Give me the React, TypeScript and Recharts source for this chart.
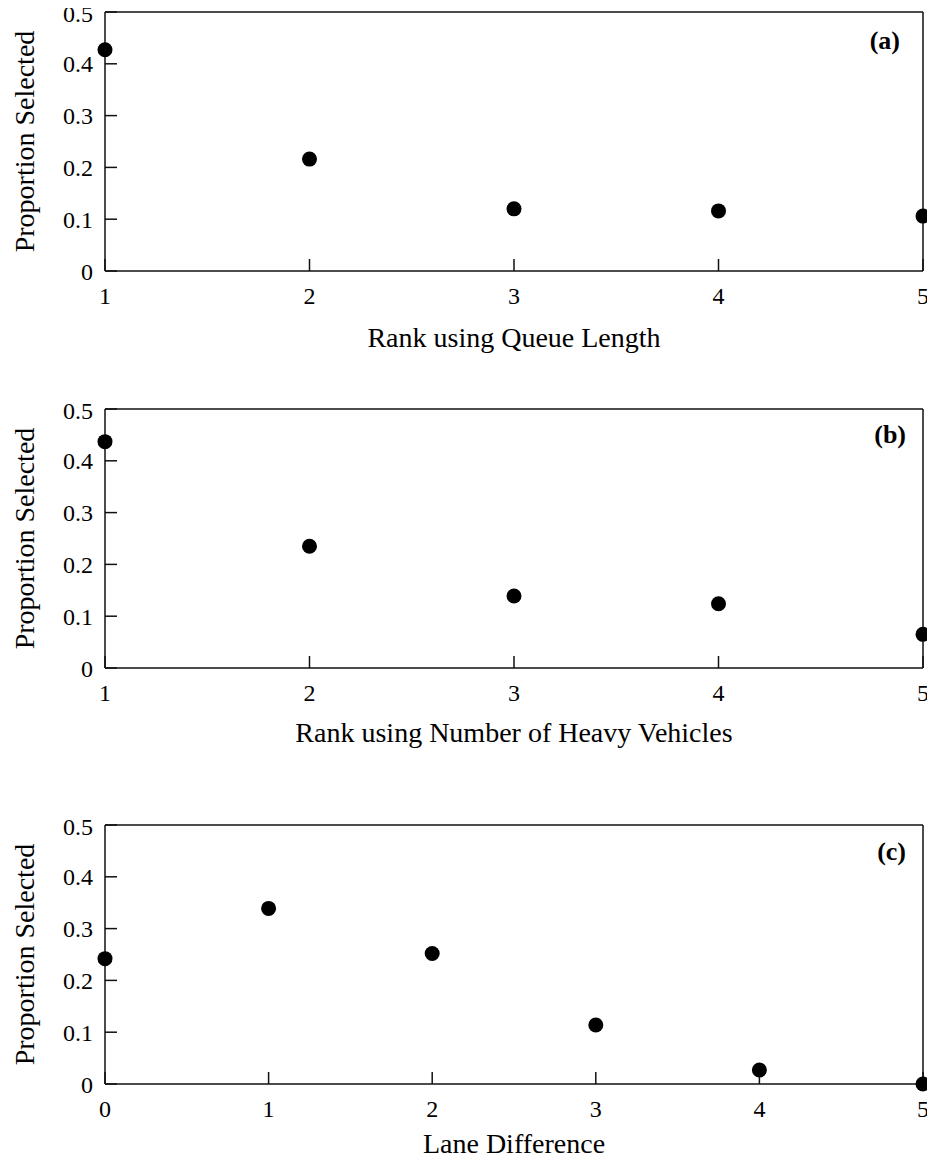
import React from "react";
import { ScatterChart, Scatter, XAxis, YAxis, Label } from "recharts";

// panel (a): rank by queue length
const queueRank = [1, 2, 3, 4, 5];
const queueShare = [0.427, 0.216, 0.12, 0.116, 0.106];

// panel (b): rank by number of heavy vehicles
const heavyRank = [1, 2, 3, 4, 5];
const heavyShare = [0.437, 0.235, 0.139, 0.124, 0.065];

// panel (c): lane difference
const laneDiff = [0, 1, 2, 3, 4, 5];
const laneShare = [0.242, 0.339, 0.252, 0.114, 0.027, 0.0];

const rankTicks = [1, 2, 3, 4, 5];
const laneTicks = [0, 1, 2, 3, 4, 5];
const propTicks = [0, 0.1, 0.2, 0.3, 0.4, 0.5];

const FONT = "'Liberation Serif', 'Times New Roman', serif";
const AXIS = { stroke: "#111", strokeWidth: 1.5 };
const tickFont = { fill: "#000", fontSize: 24, fontFamily: FONT };

const Dot = (props: any) => <circle cx={props.cx} cy={props.cy} r={7.5} fill="#000" />;
const NoDot = () => <g />;

interface PanelProps {
  xs: number[];
  ys: number[];
  xTicks: number[];
  xTitle: string;
  titleGap: number;
  tag: string;
  top: number;
  tagTop: number;
  tagRight: number;
}

const Panel = ({ xs, ys, xTicks, xTitle, titleGap, tag, top, tagTop, tagRight }: PanelProps) => {
  const data = xs.map((x, i) => ({ x, y: ys[i] }));
  const dom = [xTicks[0], xTicks[xTicks.length - 1]];
  return (
    <div style={{ position: "absolute", left: 0, top, width: 935, height: 380 }}>
      {/* plot area: x 105..923, y 12..271 inside each panel */}
      <ScatterChart width={935} height={380} margin={{ top: 11, right: 11, bottom: 31, left: 0 }}>
        <XAxis
          dataKey="x"
          type="number"
          domain={dom}
          ticks={xTicks}
          height={78}
          tickSize={-12}
          tickMargin={28}
          axisLine={AXIS}
          tickLine={AXIS}
          tick={tickFont}
        >
          <Label
            content={(p: any) => (
              <text
                x={p.viewBox.x + p.viewBox.width / 2}
                y={p.viewBox.y + titleGap}
                textAnchor="middle"
                fontSize={28}
                fontFamily={FONT}
                fill="#000"
              >
                {xTitle}
              </text>
            )}
          />
        </XAxis>
        <XAxis
          xAxisId="top"
          dataKey="x"
          orientation="top"
          type="number"
          domain={dom}
          ticks={xTicks}
          height={1}
          tickSize={-12}
          tick={false}
          axisLine={AXIS}
          tickLine={AXIS}
        />
        <YAxis
          dataKey="y"
          type="number"
          domain={[0, 0.5]}
          ticks={propTicks}
          width={105}
          tickSize={-12}
          tickMargin={24}
          axisLine={AXIS}
          tickLine={AXIS}
          tick={tickFont}
        >
          <Label
            content={(p: any) => {
              const cx = 24;
              const cy = p.viewBox.y + p.viewBox.height / 2;
              return (
                <text
                  x={cx}
                  y={cy}
                  transform={`rotate(-90 ${cx} ${cy})`}
                  textAnchor="middle"
                  dominantBaseline="central"
                  fontSize={28}
                  fontFamily={FONT}
                  fill="#000"
                >
                  Proportion Selected
                </text>
              );
            }}
          />
        </YAxis>
        <YAxis
          yAxisId="right"
          dataKey="y"
          orientation="right"
          type="number"
          domain={[0, 0.5]}
          ticks={propTicks}
          width={1}
          tickSize={-12}
          tick={false}
          axisLine={AXIS}
          tickLine={AXIS}
        />
        {/* invisible copy so the top/right frame axes get drawn */}
        <Scatter data={data} xAxisId="top" yAxisId="right" shape={NoDot} isAnimationActive={false} />
        <Scatter data={data} shape={Dot} isAnimationActive={false} />
      </ScatterChart>
      <div
        style={{
          position: "absolute",
          top: tagTop,
          right: tagRight,
          fontFamily: FONT,
          fontWeight: "bold",
          fontSize: 26,
          lineHeight: "26px",
          color: "#000",
        }}
      >
        {tag}
      </div>
    </div>
  );
};

export default function App() {
  return (
    <div style={{ position: "relative", width: 935, height: 1162, margin: -8, background: "#fff", overflow: "hidden" }}>
      <Panel
        xs={queueRank}
        ys={queueShare}
        xTicks={rankTicks}
        xTitle="Rank using Queue Length"
        titleGap={76}
        tag="(a)"
        top={0}
        tagTop={28}
        tagRight={35}
      />
      <Panel
        xs={heavyRank}
        ys={heavyShare}
        xTicks={rankTicks}
        xTitle="Rank using Number of Heavy Vehicles"
        titleGap={74}
        tag="(b)"
        top={397}
        tagTop={25}
        tagRight={29}
      />
      <Panel
        xs={laneDiff}
        ys={laneShare}
        xTicks={laneTicks}
        xTitle="Lane Difference"
        titleGap={69}
        tag="(c)"
        top={813}
        tagTop={26}
        tagRight={29}
      />
    </div>
  );
}
